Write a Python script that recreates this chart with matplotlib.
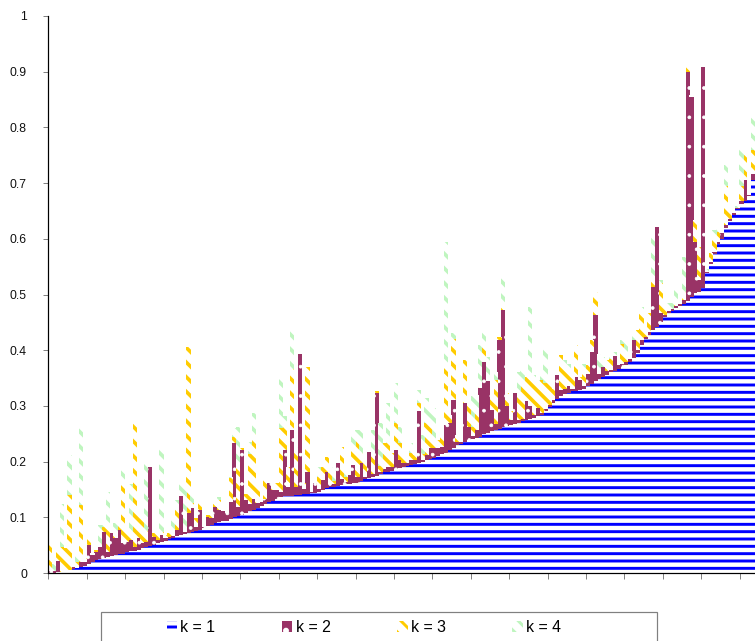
import numpy as np
import matplotlib
matplotlib.use("Agg")
import matplotlib.pyplot as plt
from matplotlib.patches import Rectangle

plt.rcParams['font.family'] = ['Liberation Sans', 'DejaVu Sans']
plt.rcParams['hatch.linewidth'] = 2.4

# k = 1 (blue, sorted), read bar by bar
k1 = [0.0, 0.0, 0.001, 0.002, 0.004, 0.005, 0.007, 0.009, 0.011, 0.013,
      0.016, 0.020, 0.023, 0.025, 0.027, 0.029, 0.031, 0.032, 0.034, 0.035,
      0.037, 0.039, 0.040, 0.042, 0.044, 0.046, 0.049, 0.051, 0.053, 0.055,
      0.058, 0.061, 0.063, 0.066, 0.068, 0.070, 0.072, 0.074, 0.076, 0.077,
      0.080, 0.084, 0.087, 0.089, 0.091, 0.093, 0.094, 0.097, 0.100, 0.103,
      0.105, 0.108, 0.111, 0.114, 0.116, 0.120, 0.124, 0.127, 0.130, 0.133,
      0.136, 0.138, 0.139, 0.139, 0.140, 0.140, 0.141, 0.142, 0.143, 0.144,
      0.146, 0.149, 0.152, 0.154, 0.155, 0.157, 0.158, 0.159, 0.160, 0.161,
      0.162, 0.165, 0.168, 0.171, 0.173, 0.175, 0.178, 0.181, 0.182, 0.184,
      0.186, 0.188, 0.190, 0.192, 0.194, 0.196, 0.197, 0.199, 0.202, 0.205,
      0.207, 0.210, 0.213, 0.216, 0.220, 0.225, 0.229, 0.232, 0.235, 0.238,
      0.240, 0.242, 0.245, 0.249, 0.252, 0.255, 0.257, 0.259, 0.262, 0.264,
      0.266, 0.268, 0.270, 0.272, 0.275, 0.277, 0.279, 0.281, 0.284, 0.290,
      0.298, 0.305, 0.312, 0.318, 0.322, 0.324, 0.326, 0.327, 0.328, 0.331,
      0.335, 0.339, 0.344, 0.348, 0.352, 0.356, 0.360, 0.363, 0.366, 0.370,
      0.374, 0.378, 0.386, 0.395, 0.410, 0.420, 0.428, 0.436, 0.442, 0.450,
      0.460, 0.467, 0.471, 0.475, 0.479, 0.483, 0.489, 0.496, 0.503, 0.505,
      0.511, 0.538, 0.555, 0.572, 0.590, 0.600, 0.620, 0.632, 0.643, 0.653,
      0.662, 0.668, 0.676, 0.705]

# k = 2 (maroon)
k2 = [0.003, 0.004, 0.020, 0.0, 0.0, 0.0, 0.003, 0.0, 0.008, 0.006,
      0.034, 0.013, 0.015, 0.022, 0.047, 0.008, 0.040, 0.030, 0.043, 0.018,
      0.019, 0.020, 0.007, 0.020, 0.010, 0.010, 0.141, 0.014, 0.006, 0.013,
      0.004, 0.004, 0.003, 0.011, 0.070, 0.004, 0.035, 0.042, 0.006, 0.036,
      0.003, 0.017, 0.011, 0.030, 0.022, 0.019, 0.013, 0.030, 0.133, 0.015,
      0.115, 0.023, 0.012, 0.018, 0.010, 0.008, 0.008, 0.034, 0.019, 0.016,
      0.010, 0.083, 0.016, 0.118, 0.015, 0.254, 0.010, 0.040, 0.002, 0.018,
      0.005, 0.018, 0.030, 0.006, 0.004, 0.040, 0.010, 0.005, 0.016, 0.033,
      0.010, 0.032, 0.005, 0.047, 0.005, 0.148, 0.004, 0.006, 0.008, 0.006,
      0.035, 0.015, 0.008, 0.005, 0.009, 0.007, 0.093, 0.004, 0.010, 0.019,
      0.017, 0.014, 0.014, 0.050, 0.049, 0.086, 0.006, 0.003, 0.070, 0.024,
      0.006, 0.014, 0.087, 0.130, 0.092, 0.038, 0.010, 0.159, 0.210, 0.035,
      0.009, 0.055, 0.004, 0.004, 0.033, 0.022, 0.005, 0.015, 0.004, 0.004,
      0.004, 0.006, 0.043, 0.011, 0.008, 0.011, 0.005, 0.025, 0.019, 0.005,
      0.023, 0.058, 0.119, 0.010, 0.018, 0.006, 0.005, 0.027, 0.007, 0.005,
      0.004, 0.006, 0.032, 0.005, 0.008, 0.004, 0.005, 0.078, 0.180, 0.016,
      0.004, 0.003, 0.003, 0.004, 0.004, 0.007, 0.411, 0.359, 0.092, 0.021,
      0.398, 0.002, 0.003, 0.005, 0.004, 0.010, 0.005, 0.004, 0.003, 0.002,
      0.005, 0.037, 0.003, 0.012]

# k = 3 (yellow)
k3 = [0.047, 0.0, 0.026, 0.045, 0.040, 0.135, 0.0, 0.010, 0.103, 0.008,
      0.012, 0.003, 0.004, 0.005, 0.009, 0.046, 0.012, 0.005, 0.012, 0.111,
      0.018, 0.015, 0.222, 0.042, 0.047, 0.020, 0.006, 0.006, 0.012, 0.005,
      0.006, 0.006, 0.008, 0.036, 0.003, 0.008, 0.299, 0.010, 0.016, 0.018,
      0.0, 0.003, 0.006, 0.006, 0.018, 0.004, 0.006, 0.043, 0.012, 0.073,
      0.005, 0.010, 0.090, 0.118, 0.030, 0.0, 0.035, 0.006, 0.010, 0.012,
      0.114, 0.043, 0.036, 0.110, 0.072, 0.0, 0.010, 0.188, 0.0, 0.0,
      0.022, 0.024, 0.027, 0.019, 0.006, 0.003, 0.059, 0.009, 0.0, 0.027,
      0.073, 0.018, 0.030, 0.009, 0.037, 0.003, 0.010, 0.046, 0.043, 0.025,
      0.049, 0.030, 0.017, 0.003, 0.012, 0.009, 0.015, 0.010, 0.057, 0.045,
      0.015, 0.015, 0.018, 0.110, 0.015, 0.110, 0.013, 0.0, 0.077, 0.046,
      0.017, 0.037, 0.009, 0.036, 0.004, 0.020, 0.079, 0.006, 0.006, 0.024,
      0.015, 0.006, 0.052, 0.059, 0.044, 0.059, 0.062, 0.039, 0.058, 0.047,
      0.039, 0.020, 0.005, 0.062, 0.040, 0.030, 0.020, 0.057, 0.005, 0.022,
      0.015, 0.021, 0.042, 0.006, 0.0, 0.020, 0.020, 0.0, 0.0, 0.037,
      0.010, 0.0, 0.0, 0.036, 0.054, 0.012, 0.033, 0.018, 0.0, 0.054,
      0.020, 0.004, 0.0, 0.006, 0.0, 0.015, 0.009, 0.0, 0.039, 0.060,
      0.006, 0.0, 0.016, 0.027, 0.019, 0.0, 0.069, 0.016, 0.0, 0.0,
      0.027, 0.045, 0.0, 0.043]

# k = 4 (light green)
k4 = [0.010, 0.012, 0.0, 0.077, 0.0, 0.071, 0.0, 0.020, 0.139, 0.0,
      0.0, 0.0, 0.0, 0.034, 0.003, 0.063, 0.0, 0.022, 0.003, 0.024,
      0.0, 0.086, 0.0, 0.0, 0.0, 0.122, 0.002, 0.0, 0.0, 0.154,
      0.0, 0.0, 0.024, 0.018, 0.026, 0.076, 0.0, 0.017, 0.0, 0.003,
      0.0, 0.0, 0.0, 0.005, 0.006, 0.0, 0.0, 0.003, 0.015, 0.072,
      0.0, 0.0, 0.023, 0.037, 0.0, 0.0, 0.0, 0.0, 0.0, 0.0,
      0.098, 0.017, 0.0, 0.075, 0.0, 0.0, 0.0, 0.0, 0.0, 0.0,
      0.018, 0.0, 0.0, 0.012, 0.020, 0.0, 0.0, 0.012, 0.0, 0.027,
      0.012, 0.042, 0.0, 0.0, 0.042, 0.0, 0.077, 0.0, 0.072, 0.0,
      0.072, 0.030, 0.0, 0.0, 0.018, 0.0, 0.024, 0.035, 0.045, 0.030,
      0.057, 0.0, 0.0, 0.219, 0.0, 0.009, 0.0, 0.0, 0.0, 0.0,
      0.054, 0.027, 0.068, 0.024, 0.040, 0.0, 0.015, 0.0, 0.054, 0.0,
      0.0, 0.0, 0.035, 0.029, 0.0, 0.120, 0.010, 0.011, 0.012, 0.065,
      0.0, 0.0, 0.0, 0.0, 0.012, 0.011, 0.0, 0.0, 0.0, 0.018,
      0.0, 0.0, 0.0, 0.030, 0.018, 0.0, 0.012, 0.006, 0.0, 0.006,
      0.026, 0.0, 0.010, 0.0, 0.006, 0.0, 0.0, 0.072, 0.003, 0.006,
      0.0, 0.010, 0.010, 0.032, 0.0, 0.063, 0.003, 0.003, 0.0, 0.0,
      0.0, 0.006, 0.0, 0.012, 0.006, 0.009, 0.039, 0.0, 0.0, 0.004,
      0.068, 0.0, 0.0, 0.059]

labels = ['k = 1', 'k = 2', 'k = 3', 'k = 4']
ytick_labels = ['0', '0.1', '0.2', '0.3', '0.4', '0.5', '0.6', '0.7', '0.8', '0.9', '1']

DPI = 88
fig = plt.figure(figsize=(755 / DPI, 641 / DPI), dpi=DPI)
ax = fig.add_axes([48.3 / 755, 1 - 573 / 641, (755 - 48.3) / 755, (573 - 16) / 641])

x = np.arange(len(k1))
bottom = np.zeros(len(k1))
styles = [dict(facecolor='white', edgecolor='#0000ff', hatch='--'),
          dict(facecolor='#993366', edgecolor='white', hatch='.'),
          dict(facecolor='white', edgecolor='#ffcc00', hatch='\\\\'),
          dict(facecolor='white', edgecolor='#bff5bf', hatch='\\\\')]
hatch_lw = [2.4, 0.6, 3.0, 3.0]

handles = []
for vals, lab, st, hl in zip([k1, k2, k3, k4], labels, styles, hatch_lw):
    vals = np.array(vals)
    with plt.rc_context({'hatch.linewidth': hl}):
        # slightly wider than the slot so neighbouring bars leave no seam
        bc = ax.bar(x, vals, width=1.1, bottom=bottom, linewidth=0,
                    label=lab, **st)
    handles.append(bc)
    bottom += vals

ax.set_yticks(np.arange(11) / 10)
ax.set_yticklabels(ytick_labels)
ax.set_xticks(np.arange(-0.5, 184, 10))
ax.set_xticklabels([])
ax.set_ylim(0, 1)
ax.set_xlim(-0.5, -0.5 + (755 - 48.3) / 3.84)
ax.spines['top'].set_visible(False)
ax.spines['right'].set_visible(False)
ax.spines['left'].set_linewidth(1.0)
ax.spines['bottom'].set_linewidth(1.0)
ax.spines['left'].set_zorder(5)
ax.tick_params(axis='both', direction='out', length=4.5, width=0.8, color='#808080')
ax.tick_params(axis='y', pad=13, labelsize=10, labelcolor='#111111')

leg = fig.legend(handles, labels, ncol=4, loc='center',
                 bbox_to_anchor=(0.482, 0.021), bbox_transform=fig.transFigure,
                 frameon=False, fontsize=13, handlelength=0.65, handleheight=0.7,
                 handletextpad=0.2, columnspacing=4.2)

fig.add_artist(Rectangle((101 / 755, -0.05), 556 / 755, 29 / 641 + 0.05,
                         transform=fig.transFigure, fill=False,
                         edgecolor='#808080', linewidth=1.0))

fig.savefig('out.png', dpi=DPI)
